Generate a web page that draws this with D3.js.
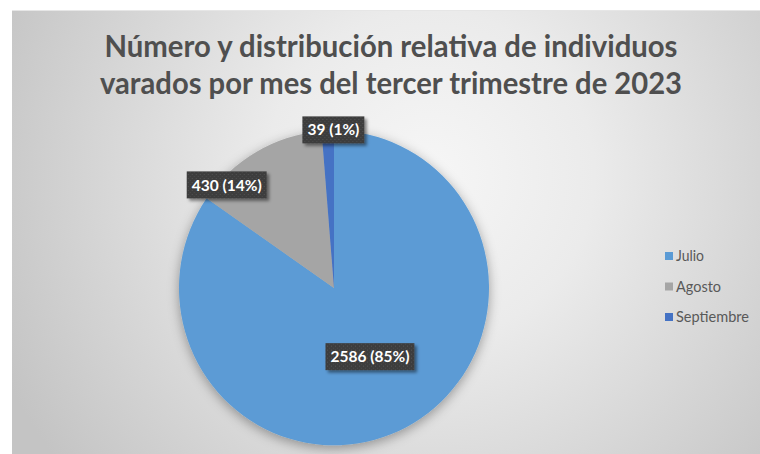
<!DOCTYPE html>
<html><head><meta charset="utf-8">
<script src="https://cdn.jsdelivr.net/npm/d3@7"></script>
<style>html,body{margin:0;padding:0;background:#fff;}svg{display:block;}</style>
</head><body>
<svg id="chart" width="760" height="454"></svg>
<script>
const titleLines = ["Número y distribución relativa de individuos", "varados por mes del tercer trimestre de 2023"];
const categories = ["Julio", "Agosto", "Septiembre"];
const values = [2586, 430, 39];
const percentLabels = ["85%", "14%", "1%"];
const colors = ["#5B9BD5", "#A5A5A5", "#4472C4"];

const svg = d3.select("#chart");
const W = 760, H = 454;
const defs = svg.append("defs");

const bg = defs.append("radialGradient").attr("id","bg")
  .attr("gradientUnits","userSpaceOnUse").attr("cx",430).attr("cy",175).attr("r",470);
bg.append("stop").attr("offset","0").attr("stop-color","#f6f6f6");
bg.append("stop").attr("offset","0.35").attr("stop-color","#ebebeb");
bg.append("stop").attr("offset","1").attr("stop-color","#c4c4c4");

const sh = defs.append("filter").attr("id","pieShadow").attr("x","-20%").attr("y","-20%").attr("width","140%").attr("height","140%");
sh.append("feDropShadow").attr("dx",0).attr("dy",3).attr("stdDeviation",6).attr("flood-color","#000").attr("flood-opacity",0.35);

const lsh = defs.append("filter").attr("id","lblShadow").attr("x","-20%").attr("y","-30%").attr("width","150%").attr("height","170%");
lsh.append("feDropShadow").attr("dx",2.5).attr("dy",2.5).attr("stdDeviation",1.6).attr("flood-color","#000").attr("flood-opacity",0.45);

const pat = defs.append("pattern").attr("id","dots").attr("width",4).attr("height",4).attr("patternUnits","userSpaceOnUse");
pat.append("rect").attr("width",4).attr("height",4).attr("fill","#3c3c3c");
pat.append("rect").attr("x",1).attr("y",1).attr("width",1).attr("height",1).attr("fill","#575757");
pat.append("rect").attr("x",3).attr("y",3).attr("width",1).attr("height",1).attr("fill","#4d4d4d");

// chart area
svg.append("rect").attr("x",12).attr("y",10).attr("width",W-12).attr("height",H-10).attr("fill","url(#bg)");
svg.append("line").attr("x1",12).attr("x2",W).attr("y1",10.5).attr("y2",10.5).attr("stroke","#e6e6e6").attr("stroke-width",1);

// title
const title = svg.append("text").attr("text-anchor","middle")
  .attr("font-family","Lato, 'Open Sans', sans-serif").attr("font-weight","bold")
  .attr("font-size",31).attr("fill","#4f4f4f");
const titleWidths = [573, 582];
titleLines.forEach((t,i)=>{
  title.append("tspan").attr("x",391).attr("y",57 + i*37).text(t)
    .attr("textLength",titleWidths[i]).attr("lengthAdjust","spacingAndGlyphs");
});

// pie
const cx = 334, cy = 288, R = 155;
const pie = d3.pie().sort(null).value(d=>d)(values);
const arc = d3.arc().innerRadius(0).outerRadius(R);
const g = svg.append("g").attr("transform",`translate(${cx},${cy}) scale(1,1.015)`);
const pg = g.append("g").attr("filter","url(#pieShadow)");
pg.selectAll("path").data(pie).join("path")
  .attr("d",arc).attr("fill",(d,i)=>colors[i]);

// labels (radius fraction, angle position within slice 0..1)
const labelRadius = [0.5, 0.96, 1.02];
const labelAngleFrac = [0.5, 0.18, 0.95];
const lg = svg.append("g").attr("transform",`translate(${cx},${cy})`);
pie.forEach((d,i)=>{
  const a = d.startAngle + (d.endAngle - d.startAngle)*labelAngleFrac[i];
  const r = R*labelRadius[i];
  const x = Math.sin(a)*r, y = -Math.cos(a)*r;
  const grp = lg.append("g").attr("transform",`translate(${x},${y})`);
  const txt = grp.append("text").attr("text-anchor","middle").attr("dy","0.36em")
    .attr("font-family","Lato, 'Open Sans', sans-serif").attr("font-weight","bold")
    .attr("font-size",15.5).attr("fill","#ffffff")
    .text(`${values[i]} (${percentLabels[i]})`);
  let w = txt.node().getComputedTextLength();
  const target = [80, 71, 54][i];
  if (w > target) { txt.attr("textLength",target).attr("lengthAdjust","spacingAndGlyphs"); w = target; }
  grp.insert("rect","text").attr("x",-w/2-5).attr("y",-13.5).attr("width",w+10).attr("height",27)
    .attr("fill","url(#dots)").attr("filter","url(#lblShadow)");
});

// legend
const leg = svg.append("g");
const legendWidths = [28, 45, 73];
categories.forEach((c,i)=>{
  const y = 256 + i*30.5;
  leg.append("rect").attr("x",665).attr("y",y-4).attr("width",8).attr("height",8).attr("fill",colors[i]);
  leg.append("text").attr("x",676).attr("y",y).attr("dy","0.35em")
    .attr("font-family","Lato, 'Open Sans', sans-serif").attr("font-size",14.5).attr("fill","#595959")
    .attr("textLength",legendWidths[i]).attr("lengthAdjust","spacingAndGlyphs").text(c);
});
</script>
</body></html>
